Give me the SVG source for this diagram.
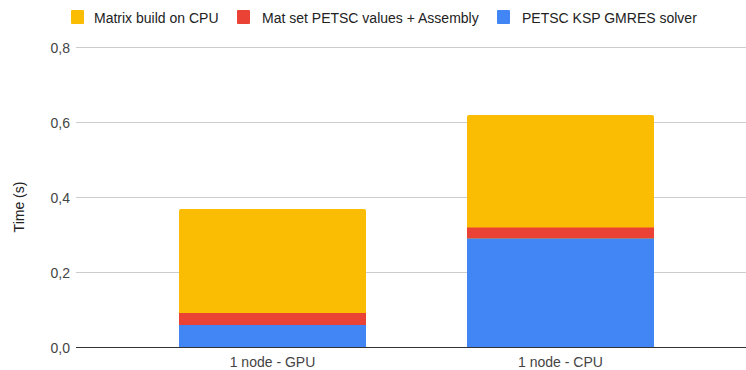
<svg xmlns="http://www.w3.org/2000/svg" width="746" height="370" viewBox="0 0 746 370">
<style>
text{font-family:"Liberation Sans",Arial,sans-serif;font-size:14px;fill:#222}
.ax{fill:#444}
.grid{stroke:#ccc;stroke-width:1}
.yellow{fill:#fbbc04}
.red{fill:#ea4335}
.blue{fill:#4285f4}
</style>
<rect width="746" height="370" fill="#fff"/>
<g id="legend">
<rect class="yellow" x="71" y="10" width="13" height="14" rx="1"/>
<text x="94" y="22.5">Matrix build on CPU</text>
<rect class="red" x="237" y="10" width="13" height="14" rx="1"/>
<text x="262" y="22.5">Mat set PETSC values + Assembly</text>
<rect class="blue" x="497" y="10" width="13" height="14" rx="1"/>
<text x="522" y="22.5">PETSC KSP GMRES solver</text>
</g>
<g id="grid">
<line class="grid" x1="76" y1="47.5" x2="746" y2="47.5"/>
<line class="grid" x1="76" y1="122.5" x2="746" y2="122.5"/>
<line class="grid" x1="76" y1="197.5" x2="746" y2="197.5"/>
<line class="grid" x1="76" y1="272.5" x2="746" y2="272.5"/>
</g>
<g id="yaxis" class="ax">
<text class="ax" x="70" y="52.5" text-anchor="end">0,8</text>
<text class="ax" x="70" y="127.5" text-anchor="end">0,6</text>
<text class="ax" x="70" y="202.5" text-anchor="end">0,4</text>
<text class="ax" x="70" y="277.5" text-anchor="end">0,2</text>
<text class="ax" x="70" y="352.5" text-anchor="end">0,0</text>
<text x="24" y="207" text-anchor="middle" transform="rotate(-90 24 207)">Time (s)</text>
</g>
<g id="bar-gpu">
<path class="yellow" d="M179 347V211a2 2 0 0 1 2-2H364a2 2 0 0 1 2 2V347Z"/>
<rect class="red" x="179" y="313" width="187" height="12"/>
<rect class="blue" x="179" y="325" width="187" height="22"/>
<text class="ax" x="272.5" y="367" text-anchor="middle">1 node - GPU</text>
</g>
<g id="bar-cpu">
<path class="yellow" d="M467 347V117a2 2 0 0 1 2-2H652a2 2 0 0 1 2 2V347Z"/>
<rect class="red" x="467" y="227.5" width="187" height="11"/>
<rect class="blue" x="467" y="238.5" width="187" height="108.5"/>
<text class="ax" x="560.5" y="367" text-anchor="middle">1 node - CPU</text>
</g>
<g id="connectors">
<line x1="76" y1="347.5" x2="746" y2="347.5" stroke="#333" stroke-width="1"/>
</g>
</svg>
